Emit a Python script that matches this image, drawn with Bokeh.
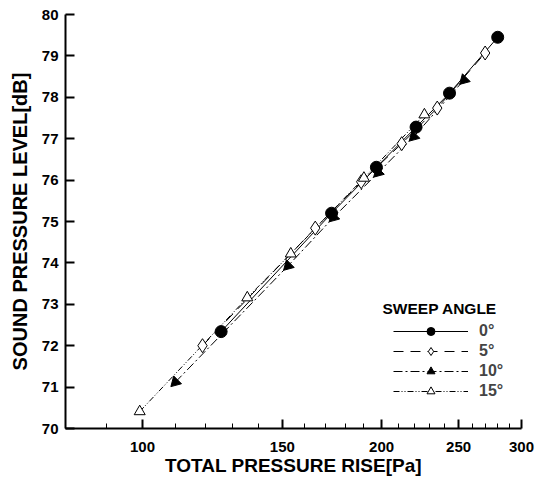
import math
from bokeh.plotting import figure
from bokeh.models import FixedTicker, Legend, LegendItem, Label, Range1d
from bokeh.embed import file_html
from bokeh.resources import INLINE

# ---- data ----
x_0 = [125.6, 173.0, 197.0, 221.0, 243.5, 280.0]
y_0 = [72.34, 75.20, 76.31, 77.28, 78.10, 79.45]

x_5 = [119.0, 165.0, 188.5, 212.0, 235.0, 270.0]
y_5 = [72.00, 74.84, 75.96, 76.88, 77.74, 79.07]

x_10 = [110.0, 152.5, 174.0, 198.0, 219.5, 254.0]
y_10 = [71.12, 73.93, 75.10, 76.18, 77.05, 78.42]

x_15 = [99.2, 135.5, 153.7, 190.0, 226.4]
y_15 = [70.41, 73.16, 74.22, 76.05, 77.58]

series_labels = ["0°", "5°", "10°", "15°"]
x_ticks = [100, 150, 200, 250, 300]
x_minor = [80, 90, 110, 120, 130, 140, 160, 170, 180, 190,
           210, 220, 230, 240, 260, 270, 280, 290]
y_ticks = [70, 71, 72, 73, 74, 75, 76, 77, 78, 79, 80]

FONT = "Liberation Sans"

p = figure(frame_width=456, frame_height=414, x_axis_type="log",
           x_range=Range1d(80, 300), y_range=Range1d(70, 80),
           output_backend="svg", toolbar_location=None,
           min_border_left=65, min_border_right=15,
           min_border_top=14, min_border_bottom=49)
p.outline_line_color = None
p.grid.visible = False
p.background_fill_color = "white"

# lines
l0 = p.line(x_0, y_0, line_color="black", line_width=1)
l5 = p.line(x_5, y_5, line_color="black", line_width=1, line_dash="10 7")
l10 = p.line(x_10, y_10, line_color="black", line_width=1, line_dash="9 3 2 3")
l15 = p.line(x_15, y_15, line_color="black", line_width=1, line_dash="6 2 1 2 1 2")

# markers
m0 = p.scatter(x_0, y_0, marker="circle", size=12, fill_color="black", line_color="black")
m5 = p.scatter(x_5, y_5, marker="diamond", size=14, fill_color="white", line_color="black", line_width=1)
m10 = p.scatter(x_10, y_10, marker="triangle", size=11, angle=3 * math.pi / 4,
                fill_color="black", line_color="black")
m15 = p.scatter(x_15, y_15, marker="triangle", size=11, fill_color="white", line_color="black", line_width=1)

legend = Legend(items=[
    LegendItem(label=series_labels[0], renderers=[l0, m0]),
    LegendItem(label=series_labels[1], renderers=[l5, m5]),
    LegendItem(label=series_labels[2], renderers=[l10, m10]),
    LegendItem(label=series_labels[3], renderers=[l15, m15]),
], location=(328, 27), glyph_width=75, glyph_height=20, spacing=0,
    padding=0, margin=0, label_standoff=11, border_line_color=None,
    background_fill_alpha=0, label_text_font=FONT, label_text_font_style="bold",
    label_text_font_size="16px", label_height=19)
p.add_layout(legend, "center")

p.add_layout(Label(x=317, y=112, x_units="screen", y_units="screen", text="SWEEP ANGLE",
                   text_font=FONT, text_font_style="bold", text_font_size="15.5px",
                   text_color="black"))

# axes
xa = p.xaxis[0]
xa.ticker = FixedTicker(ticks=x_ticks, minor_ticks=x_minor)
xa.major_label_overrides = {t: str(t) for t in x_ticks}
ya = p.yaxis[0]
ya.ticker = FixedTicker(ticks=y_ticks, minor_ticks=[])
for ax in (xa, ya):
    ax.axis_line_width = 2
    ax.axis_line_color = "black"
    ax.major_tick_in = 9
    ax.major_tick_out = 0
    ax.major_tick_line_width = 2
    ax.minor_tick_in = 5
    ax.minor_tick_out = 0
    ax.minor_tick_line_width = 1
    ax.major_label_text_font = FONT
    ax.major_label_text_font_style = "bold"
    ax.major_label_text_font_size = "15px"
    ax.major_label_text_color = "black"
    ax.axis_label_text_font = FONT
    ax.axis_label_text_font_style = "bold"
    ax.axis_label_text_color = "black"
xa.axis_label_text_font_size = "19px"
ya.axis_label_text_font_size = "20px"
xa.major_label_standoff = 13
ya.major_label_standoff = 7
xa.axis_label = "TOTAL PRESSURE RISE[Pa]"
ya.axis_label = "SOUND PRESSURE LEVEL[dB]"
xa.axis_label_standoff = 0
ya.axis_label_standoff = 8

open("out.html", "w").write(file_html(p, INLINE))
